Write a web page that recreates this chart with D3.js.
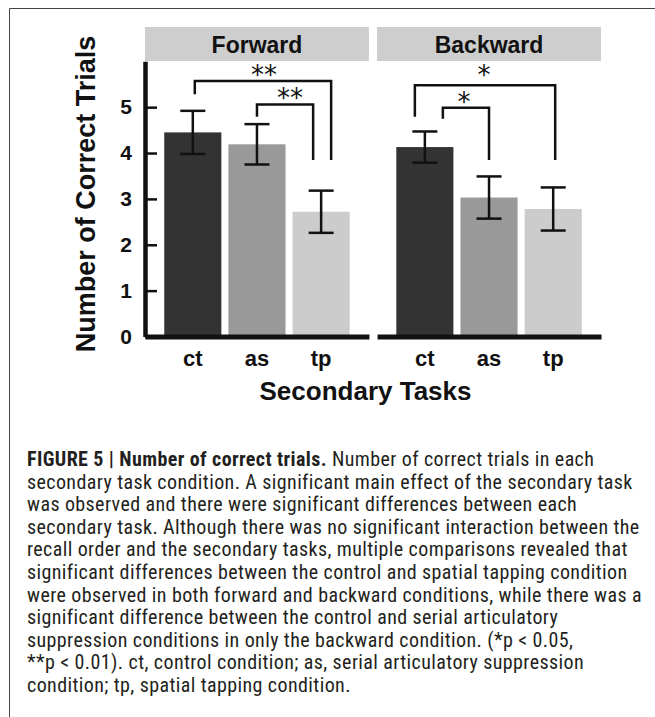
<!DOCTYPE html>
<html>
<head>
<meta charset="utf-8">
<script src="https://cdn.jsdelivr.net/npm/d3@7"></script>
<style>
  body { margin: 0; background: #fff; }
  svg { display: block; }
</style>
</head>
<body>
<div id="chart"></div>
<script>
// data
const orders = ["Forward", "Backward"];
const tasks = ["ct", "as", "tp"];
const forwardMeans = [4.45, 4.19, 2.72];
const forwardErr = [0.47, 0.44, 0.46];
const backwardMeans = [4.13, 3.03, 2.78];
const backwardErr = [0.34, 0.46, 0.47];
const yTicks = [0, 1, 2, 3, 4, 5];

// significance comparisons
const comparisons = [
  {order: "Forward", from: "ct", to: "tp", label: "**"},
  {order: "Forward", from: "as", to: "tp", label: "**"},
  {order: "Backward", from: "ct", to: "tp", label: "*"},
  {order: "Backward", from: "ct", to: "as", label: "*"}
];

const captionLines = [
  "secondary task condition. A significant main effect of the secondary task",
  "was observed and there were significant differences between each",
  "secondary task. Although there was no significant interaction between the",
  "recall order and the secondary tasks, multiple comparisons revealed that",
  "significant differences between the control and spatial tapping condition",
  "were observed in both forward and backward conditions, while there was a",
  "significant difference between the control and serial articulatory",
  "suppression conditions in only the backward condition. (*p < 0.05,",
  "**p < 0.01). ct, control condition; as, serial articulatory suppression",
  "condition; tp, spatial tapping condition."
];

// bracket layout: heights in data units, leg x offsets in px from bar centre
const bracketLayout = [
  {top: 5.57, endFrom: 5.28, endTo: 3.85, dxFrom: 2, dxTo: 10, labelDx: 1, labelDy: -7},
  {top: 5.06, endFrom: 4.79, endTo: 3.85, dxFrom: 0, dxTo: -8, labelDx: 5, labelDy: -7},
  {top: 5.48, endFrom: 4.79, endTo: 3.85, dxFrom: -10, dxTo: 2, labelDx: -1, labelDy: -11},
  {top: 4.99, endFrom: 4.75, endTo: 3.85, dxFrom: 18, dxTo: 0, labelDx: -2, labelDy: -7}
];

const width = 655, height = 717;
const barColors = ["#333333", "#999999", "#cccccc"];
const font = "'Liberation Sans', Arial, sans-serif";

const svg = d3.select("#chart").append("svg")
  .attr("width", width)
  .attr("height", height);

// frame
svg.append("path")
  .attr("d", "M9.5," + height + "V8.5H" + width)
  .attr("fill", "none")
  .attr("stroke", "#444")
  .attr("stroke-width", 1);

const y = d3.scaleLinear().domain([0, 6]).range([336.5, 61.3]);
const fx = d3.scaleBand().domain(orders).range([145, 601]).paddingInner(0.035);
const x = d3.scaleBand().domain(tasks).range([0, fx.bandwidth()])
  .paddingInner(0.11).paddingOuter(0.3);
const color = d3.scaleOrdinal().domain(tasks).range(barColors);

const panelData = {
  Forward: tasks.map((t, i) => ({task: t, mean: forwardMeans[i], err: forwardErr[i]})),
  Backward: tasks.map((t, i) => ({task: t, mean: backwardMeans[i], err: backwardErr[i]}))
};

orders.forEach(function(order) {
  let g = svg.append("g").attr("transform", "translate(" + fx(order) + ",0)");
  let rows = panelData[order];

  // strip
  g.append("rect")
    .attr("x", 0)
    .attr("y", 27)
    .attr("width", fx.bandwidth())
    .attr("height", 34)
    .attr("fill", "#cecece");
  g.append("text")
    .attr("x", fx.bandwidth() / 2)
    .attr("y", 52.5)
    .attr("text-anchor", "middle")
    .style("font-family", font)
    .style("font-weight", "bold")
    .style("font-size", "23px")
    .attr("fill", "#111")
    .text(order);

  g.selectAll(".bar")
    .data(rows)
    .enter()
    .append("rect")
    .attr("class", "bar")
    .attr("x", d => x(d.task))
    .attr("y", d => y(d.mean))
    .attr("width", x.bandwidth())
    .attr("height", d => y(0) - y(d.mean))
    .attr("fill", d => color(d.task));

  // error bars
  let eb = g.selectAll(".err")
    .data(rows)
    .enter()
    .append("g")
    .attr("class", "err")
    .attr("stroke", "#111")
    .attr("stroke-width", 2.5);
  eb.append("line")
    .attr("x1", d => x(d.task) + x.bandwidth() / 2)
    .attr("x2", d => x(d.task) + x.bandwidth() / 2)
    .attr("y1", d => y(d.mean + d.err))
    .attr("y2", d => y(d.mean - d.err));
  eb.append("line")
    .attr("x1", d => x(d.task) + x.bandwidth() / 2 - 12.5)
    .attr("x2", d => x(d.task) + x.bandwidth() / 2 + 12.5)
    .attr("y1", d => y(d.mean + d.err))
    .attr("y2", d => y(d.mean + d.err));
  eb.append("line")
    .attr("x1", d => x(d.task) + x.bandwidth() / 2 - 12.5)
    .attr("x2", d => x(d.task) + x.bandwidth() / 2 + 12.5)
    .attr("y1", d => y(d.mean - d.err))
    .attr("y2", d => y(d.mean - d.err));

  // x axis
  let xAxis = g.append("g")
    .attr("transform", "translate(0," + y(0) + ")")
    .call(d3.axisBottom(x).tickSize(0).tickPadding(14));
  xAxis.select(".domain").attr("stroke", "#111").attr("stroke-width", 5);
  xAxis.selectAll("text")
    .style("font-family", font)
    .style("font-weight", "bold")
    .style("font-size", "22px")
    .attr("fill", "#111");

  if (order === orders[0]) {
    let yAxis = g.append("g")
      .call(d3.axisLeft(y).tickValues(yTicks).tickFormat(d3.format("d"))
        .tickSizeInner(-12).tickSizeOuter(0).tickPadding(13));
    yAxis.select(".domain").attr("stroke", "#111").attr("stroke-width", 4.5);
    yAxis.selectAll(".tick line").attr("stroke", "#111").attr("stroke-width", 2.5);
    yAxis.selectAll("text")
      .style("font-family", font)
      .style("font-weight", "bold")
      .style("font-size", "21px")
      .attr("fill", "#111");
  }

  // significance brackets
  comparisons.forEach(function(c, i) {
    if (c.order !== order) return;
    let b = bracketLayout[i];
    let x1 = x(c.from) + x.bandwidth() / 2 + b.dxFrom;
    let x2 = x(c.to) + x.bandwidth() / 2 + b.dxTo;
    g.append("path")
      .attr("d", "M" + x1 + "," + y(b.endFrom) + "V" + y(b.top) + "H" + x2 + "V" + y(b.endTo))
      .attr("fill", "none")
      .attr("stroke", "#111")
      .attr("stroke-width", 2.5);
    g.append("text")
      .attr("x", (x1 + x2) / 2 + b.labelDx)
      .attr("y", y(b.top) + b.labelDy + 10)
      .attr("text-anchor", "middle")
      .style("font-family", "'DejaVu Sans', sans-serif")
      .style("font-size", "26px")
      .attr("fill", "#111")
      .text(c.label);
  });
});

// axis titles
svg.append("text")
  .attr("transform", "translate(95,194) rotate(-90)")
  .attr("text-anchor", "middle")
  .style("font-family", font)
  .style("font-weight", "bold")
  .style("font-size", "27px")
  .attr("fill", "#111")
  .text("Number of Correct Trials");

svg.append("text")
  .attr("x", 365.5)
  .attr("y", 400)
  .attr("text-anchor", "middle")
  .style("font-family", font)
  .style("font-weight", "bold")
  .style("font-size", "26px")
  .attr("fill", "#111")
  .text("Secondary Tasks");

// caption
const capFont = "'Liberation Sans Narrow', 'Roboto Condensed', 'Liberation Sans', sans-serif";
let cap = svg.append("g")
  .style("font-family", capFont)
  .style("font-size", "20px")
  .style("letter-spacing", "0.4px")
  .attr("fill", "#231f20");

let first = cap.append("text").attr("x", 27).attr("y", 466);
first.append("tspan").style("font-weight", "bold").text("FIGURE 5 | Number of correct trials.");
first.append("tspan").text(" Number of correct trials in each");

cap.selectAll(".line")
  .data(captionLines)
  .enter()
  .append("text")
  .attr("class", "line")
  .attr("x", 27)
  .attr("y", (d, i) => 466 + (i + 1) * 22.6)
  .text(d => d);
</script>
</body>
</html>
